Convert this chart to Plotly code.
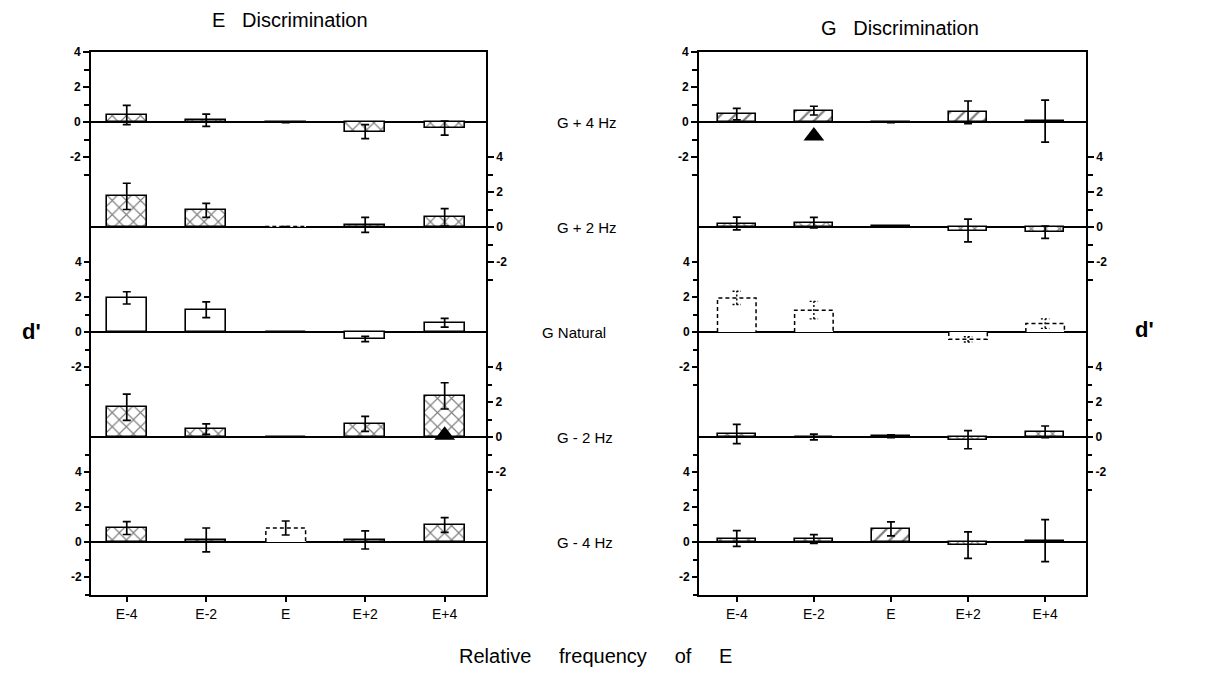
import plotly.graph_objects as go

# ---------------- data ----------------
categories = ["E-4", "E-2", "E", "E+2", "E+4"]
panel_labels = ["G + 4 Hz", "G + 2 Hz", "G Natural", "G - 2 Hz", "G - 4 Hz"]

# E discrimination (left column)
e_g4 = [0.40, 0.10, -0.03, -0.55, -0.35]
e_g4_err = [0.55, 0.35, 0.0, 0.40, 0.40]
e_g2 = [1.75, 0.95, 0.03, 0.12, 0.55]
e_g2_err = [0.75, 0.40, 0.0, 0.43, 0.50]
e_gn = [1.95, 1.27, 0.0, -0.40, 0.53]
e_gn_err = [0.35, 0.45, 0.0, 0.15, 0.25]
e_gm2 = [1.70, 0.45, 0.0, 0.75, 2.35]
e_gm2_err = [0.75, 0.30, 0.0, 0.43, 0.75]
e_gm4 = [0.80, 0.12, 0.80, 0.12, 0.97]
e_gm4_err = [0.37, 0.68, 0.40, 0.52, 0.42]

# G discrimination (right column)
g_g4 = [0.45, 0.65, -0.03, 0.55, 0.05]
g_g4_err = [0.33, 0.25, 0.0, 0.65, 1.20]
g_g2 = [0.20, 0.25, 0.05, -0.20, -0.30]
g_g2_err = [0.36, 0.30, 0.0, 0.65, 0.35]
g_gn = [1.95, 1.25, 0.0, -0.42, 0.48]
g_gn_err = [0.38, 0.50, 0.0, 0.15, 0.27]
g_gm2 = [0.17, 0.0, 0.05, -0.15, 0.30]
g_gm2_err = [0.55, 0.16, 0.08, 0.52, 0.33]
g_gm4 = [0.20, 0.17, 0.75, -0.18, 0.08]
g_gm4_err = [0.45, 0.25, 0.40, 0.76, 1.20]

# significance markers (panel, category, d')
tri_e = ("G - 2 Hz", "E+4", 0.10)
tri_g = ("G + 4 Hz", "E-2", -0.80)

# ---------------- styles ----------------
FONT = "Liberation Sans, Arial, sans-serif"
BW = 0.5
CAP = 0.055
XP = "x"   # broken-dash texture
HP = "/"   # diagonal hatch

left_values = [e_g4, e_g2, e_gn, e_gm2, e_gm4]
left_errs = [e_g4_err, e_g2_err, e_gn_err, e_gm2_err, e_gm4_err]
right_values = [g_g4, g_g2, g_gn, g_gm2, g_gm4]
right_errs = [g_g4_err, g_g2_err, g_gn_err, g_gm2_err, g_gm4_err]

left_patterns = [[XP] * 5, [XP] * 5, [""] * 5, [XP] * 5, [XP, XP, "", XP, XP]]
left_dashed = [[0] * 5, [0, 0, 1, 0, 0], [0] * 5, [0] * 5, [0, 0, 1, 0, 0]]
left_dotted_err = [False] * 5
right_patterns = [[HP] * 5, [XP] * 5, [""] * 5, [XP] * 5, [XP, XP, HP, XP, XP]]
right_dashed = [[0] * 5, [0] * 5, [1] * 5, [0] * 5, [0] * 5]
right_dotted_err = [False, False, True, False, False]

fig = go.Figure()

Y0, Y1 = 91.5 / 686, 634 / 686
XDOM = [[91 / 1215, 486 / 1215], [699 / 1215, 1086 / 1215]]
XRNG = [[-0.45, 4.52], [-0.49, 4.53]]
xs = list(range(len(categories)))


def yname_for(col, k):
    n = col * 5 + k + 1
    return "y" if n == 1 else f"y{n}"


def add_column(col, values, errs, patterns, dashed, dotted_err):
    xname = "x" if col == 0 else "x2"
    for k in range(5):
        yname = yname_for(col, k)
        vals = values[k]
        solid_line = [0 if d else 1.6 for d in dashed[k]]
        bar = dict(
            x=xs, y=vals, width=BW, xaxis=xname, yaxis=yname,
            marker=dict(color="white",
                        line=dict(color="black", width=solid_line),
                        pattern=dict(shape=patterns[k], fgcolor="black",
                                     bgcolor="white", size=10, solidity=0.22)),
            showlegend=False, hoverinfo="skip")
        if not dotted_err[k]:
            bar["error_y"] = dict(type="data", array=errs[k], visible=True,
                                  color="black", thickness=1.7, width=4)
        fig.add_trace(go.Bar(**bar))
        # dashed outlines
        px, py = [], []
        for i, d in enumerate(dashed[k]):
            if d:
                px += [xs[i] - BW / 2, xs[i] - BW / 2, xs[i] + BW / 2, xs[i] + BW / 2, None]
                py += [0, vals[i], vals[i], 0, None]
        if px:
            fig.add_trace(go.Scatter(x=px, y=py, mode="lines", xaxis=xname, yaxis=yname,
                                     line=dict(color="black", width=1.5, dash="4px,3px"),
                                     showlegend=False, hoverinfo="skip"))
        # dotted error bars
        if dotted_err[k]:
            ex, ey = [], []
            for i, (v, e) in enumerate(zip(vals, errs[k])):
                if e <= 0:
                    continue
                ex += [xs[i], xs[i], None, xs[i] - CAP, xs[i] + CAP, None,
                       xs[i] - CAP, xs[i] + CAP, None]
                ey += [v - e, v + e, None, v + e, v + e, None, v - e, v - e, None]
            fig.add_trace(go.Scatter(x=ex, y=ey, mode="lines", xaxis=xname, yaxis=yname,
                                     line=dict(color="black", width=1.4, dash="2px,2px"),
                                     showlegend=False, hoverinfo="skip"))


add_column(0, left_values, left_errs, left_patterns, left_dashed, left_dotted_err)
add_column(1, right_values, right_errs, right_patterns, right_dashed, right_dotted_err)


def add_tri(col, spec):
    k = panel_labels.index(spec[0])
    fig.add_trace(go.Scatter(
        x=[categories.index(spec[1])], y=[spec[2]], mode="markers",
        xaxis="x" if col == 0 else "x2", yaxis=yname_for(col, k),
        marker=dict(symbol="triangle-up", size=18, color="black"),
        showlegend=False, hoverinfo="skip"))


add_tri(0, tri_e)
add_tri(1, tri_g)

layout = dict(
    width=1215, height=686, margin=dict(l=0, r=0, t=0, b=0, autoexpand=False),
    paper_bgcolor="white", plot_bgcolor="white", bargap=0, showlegend=False,
    font=dict(family=FONT, color="black"),
)

for col in range(2):
    xname = "xaxis" if col == 0 else "xaxis2"
    layout[xname] = dict(
        domain=XDOM[col], range=XRNG[col], anchor=yname_for(col, 0),
        tickmode="array", tickvals=xs, ticktext=categories,
        ticks="outside", ticklen=6, tickwidth=1.5, tickcolor="black",
        showline=True, linecolor="black", linewidth=1.8, mirror=True,
        showgrid=False, zeroline=False,
        tickfont=dict(family=FONT, size=14, color="black"),
    )
    for k in range(5):
        yn = yname_for(col, k)
        key = "yaxis" + yn[1:]
        side = "left" if k % 2 == 0 else "right"
        minor_vals = [-3, -1, 1, 3] + ([5] if k == 4 else [])
        ax = dict(
            domain=[Y0, Y1], range=[-3 - 6 * (4 - k), 4 + 6 * k],
            anchor="x" if col == 0 else "x2", side=side,
            tickmode="array", tickvals=[-2, 0, 2, 4], ticktext=["-2", "0", "2", "4"],
            ticks="outside", ticklen=6, tickwidth=1.5, tickcolor="black",
            minor=dict(tickmode="array", tickvals=minor_vals, ticks="outside",
                       ticklen=5, tickwidth=1.5, tickcolor="black", showgrid=False),
            showgrid=False, zeroline=True, zerolinecolor="black", zerolinewidth=1.6,
            showline=(k < 2), linecolor="black", linewidth=1.8,
            tickfont=dict(family=FONT, size=12, color="black", weight="bold"),
        )
        if k != 0:
            ax["overlaying"] = yname_for(col, 0)
        layout[key] = ax

annotations = [
    dict(text="E   Discrimination", x=290 / 1215, y=1 - 20 / 686, xref="paper", yref="paper",
         xanchor="center", yanchor="middle",
         showarrow=False, font=dict(size=20, family=FONT)),
    dict(text="G   Discrimination", x=900 / 1215, y=1 - 28 / 686, xref="paper", yref="paper",
         xanchor="center", yanchor="middle",
         showarrow=False, font=dict(size=20, family=FONT)),
    dict(text="d'", x=31 / 1215, y=1 - 331 / 686, xref="paper", yref="paper",
         xanchor="center", yanchor="middle",
         showarrow=False, font=dict(size=22, family=FONT, weight="bold")),
    dict(text="d'", x=1144 / 1215, y=1 - 329 / 686, xref="paper", yref="paper",
         xanchor="center", yanchor="middle",
         showarrow=False, font=dict(size=22, family=FONT, weight="bold")),
    dict(text="Relative&nbsp;&nbsp;&nbsp;&nbsp;&nbsp;frequency&nbsp;&nbsp;&nbsp;&nbsp;&nbsp;of&nbsp;&nbsp;&nbsp;&nbsp;&nbsp;E",
         x=595 / 1215, y=1 - 656 / 686, xref="paper", yref="paper",
         xanchor="center", yanchor="middle",
         showarrow=False, font=dict(size=20, family=FONT)),
]
label_x = [555, 555, 540, 555, 555]
for k, lab in enumerate(panel_labels):
    annotations.append(dict(text=lab, x=label_x[k] / 1215, xanchor="left", y=0,
                            yanchor="middle",
                            xref="paper", yref=yname_for(0, k),
                            showarrow=False, font=dict(size=15, family=FONT)))
layout["annotations"] = annotations

fig.update_layout(**layout)
fig.write_html("out.html")
